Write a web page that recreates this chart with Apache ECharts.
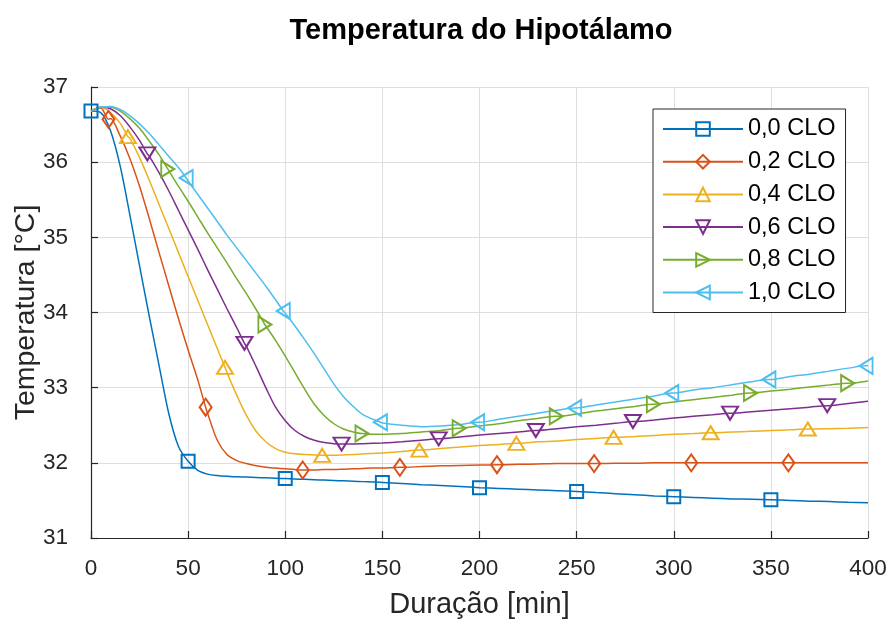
<!DOCTYPE html>
<html>
<head>
<meta charset="utf-8">
<script src="https://cdn.jsdelivr.net/npm/echarts@6/dist/echarts.min.js"></script>
<style>
  html, body { margin: 0; padding: 0; background: #ffffff; }
  #chart { width: 889px; height: 621px; }
</style>
</head>
<body>
<div id="chart"></div>
<script>
// Time samples (minutes) shared by all curves
const minutes = [
  0, 5, 10, 15, 20, 25, 30, 35, 40, 45, 50, 55, 60, 65, 70, 75, 80, 85, 90, 95,
  100, 105, 110, 115, 120, 125, 130, 135, 140, 145, 150,
  160, 170, 180, 190, 200, 210, 220, 230, 240, 250, 260, 270, 280, 290, 300,
  310, 320, 330, 340, 350, 360, 370, 380, 390, 400
];

// Hypothalamus temperature (°C) for each clothing insulation level
const clo00 = [
  36.68, 36.66, 36.42, 35.95, 35.30, 34.62, 33.95, 33.30, 32.66, 32.22, 32.02, 31.90, 31.85, 31.83, 31.82, 31.815, 31.81, 31.805, 31.80, 31.795,
  31.79, 31.785, 31.78, 31.775, 31.77, 31.765, 31.76, 31.755, 31.75, 31.745, 31.74,
  31.725, 31.71, 31.70, 31.685, 31.67, 31.66, 31.65, 31.64, 31.63, 31.62, 31.605, 31.59, 31.575, 31.56, 31.55,
  31.54, 31.53, 31.52, 31.515, 31.51, 31.50, 31.49, 31.485, 31.475, 31.47
];
const clo02 = [
  36.68, 36.72, 36.58, 36.35, 36.05, 35.68, 35.25, 34.80, 34.36, 33.92, 33.50, 33.10, 32.66, 32.30, 32.11, 32.03, 31.99, 31.96, 31.94, 31.93,
  31.92, 31.91, 31.905, 31.905, 31.91, 31.91, 31.915, 31.92, 31.925, 31.93, 31.93,
  31.94, 31.95, 31.96, 31.965, 31.97, 31.975, 31.98, 31.985, 31.99, 31.99, 31.99, 31.995, 31.995, 32.00, 32.00,
  32.00, 32.00, 32.00, 32.00, 32.00, 32.00, 32.00, 32.00, 32.00, 32.00
];
const clo04 = [
  36.68, 36.73, 36.66, 36.52, 36.32, 36.06, 35.76, 35.44, 35.12, 34.80, 34.48, 34.16, 33.84, 33.52, 33.20, 32.90, 32.63, 32.42, 32.28, 32.19,
  32.14, 32.12, 32.11, 32.105, 32.10, 32.10, 32.105, 32.11, 32.12, 32.125, 32.13,
  32.15, 32.17, 32.19, 32.21, 32.23, 32.245, 32.26, 32.28, 32.29, 32.31, 32.325, 32.34, 32.35, 32.365, 32.38,
  32.39, 32.40, 32.41, 32.42, 32.43, 32.44, 32.45, 32.455, 32.46, 32.47
];
const clo06 = [
  36.68, 36.73, 36.71, 36.62, 36.47, 36.29, 36.08, 35.86, 35.62, 35.36, 35.10, 34.84, 34.57, 34.31, 34.05, 33.80, 33.55, 33.28, 33.00, 32.74,
  32.56, 32.43, 32.35, 32.30, 32.27, 32.255, 32.25, 32.25, 32.255, 32.26, 32.265,
  32.28, 32.30, 32.32, 32.345, 32.37, 32.39, 32.41, 32.43, 32.455, 32.48, 32.50, 32.525, 32.55, 32.57, 32.595,
  32.62, 32.64, 32.66, 32.68, 32.70, 32.72, 32.74, 32.76, 32.79, 32.82
];
const clo08 = [
  36.68, 36.73, 36.73, 36.68, 36.58, 36.45, 36.28, 36.10, 35.89, 35.68, 35.48, 35.27, 35.06, 34.86, 34.66, 34.45, 34.25, 34.04, 33.82, 33.63,
  33.42, 33.20, 32.98, 32.78, 32.63, 32.52, 32.45, 32.41, 32.39, 32.38, 32.38,
  32.39, 32.41, 32.43, 32.46, 32.49, 32.52, 32.56, 32.59, 32.62, 32.65, 32.69, 32.72, 32.75, 32.78, 32.81,
  32.84, 32.87, 32.90, 32.93, 32.955, 32.98, 33.01, 33.035, 33.06, 33.09
];
const clo10 = [
  36.68, 36.73, 36.74, 36.70, 36.62, 36.51, 36.38, 36.23, 36.08, 35.93, 35.75, 35.57, 35.39, 35.21, 35.03, 34.86, 34.69, 34.52, 34.35, 34.17,
  33.99, 33.82, 33.64, 33.45, 33.25, 33.05, 32.88, 32.75, 32.64, 32.58, 32.53,
  32.50, 32.48, 32.49, 32.51, 32.54, 32.58, 32.62, 32.66, 32.70, 32.73, 32.77, 32.81, 32.85, 32.89, 32.93,
  32.97, 33.00, 33.04, 33.08, 33.11, 33.15, 33.18, 33.22, 33.26, 33.29
];

// Marked samples on each curve: times (min) and temperatures (°C)
const markTimes00 = [0, 50, 100, 150, 200, 250, 300, 350];
const markTemps00 = [36.68, 32.02, 31.79, 31.74, 31.67, 31.62, 31.55, 31.51];
const markTimes02 = [9, 59, 109, 159, 209, 259, 309, 359];
const markTemps02 = [36.57, 32.74, 31.905, 31.94, 31.975, 31.99, 32.00, 32.00];
const markTimes04 = [19, 69, 119, 169, 219, 269, 319, 369];
const markTemps04 = [36.34, 33.27, 32.10, 32.17, 32.26, 32.34, 32.40, 32.45];
const markTimes06 = [29, 79, 129, 179, 229, 279, 329, 379];
const markTemps06 = [36.11, 33.59, 32.25, 32.32, 32.43, 32.55, 32.66, 32.76];
const markTimes08 = [39.5, 89.5, 139.5, 189.5, 239.5, 289.5, 339.5, 389.5];
const markTemps08 = [35.91, 33.84, 32.39, 32.46, 32.62, 32.78, 32.93, 33.06];
const markTimes10 = [49, 99, 149, 199, 249, 299, 349, 399];
const markTemps10 = [35.79, 34.02, 32.54, 32.54, 32.73, 32.93, 33.11, 33.29];

const seriesNames = ['0,0 CLO', '0,2 CLO', '0,4 CLO', '0,6 CLO', '0,8 CLO', '1,0 CLO'];
const seriesTemps = [clo00, clo02, clo04, clo06, clo08, clo10];
const seriesMarkTimes = [markTimes00, markTimes02, markTimes04, markTimes06, markTimes08, markTimes10];
const seriesMarkTemps = [markTemps00, markTemps02, markTemps04, markTemps06, markTemps08, markTemps10];
const seriesColors = ['#0072BD', '#D95319', '#EDB120', '#7E2F8E', '#77AC30', '#4DBEEE'];

// Marker shapes: square, diamond, triangle up / down / right / left
const markerShapes = ['rect', 'diamond', 'triangle', 'triangle', 'triangle', 'triangle'];
const markerRotations = [0, 0, 0, 180, -90, 90];
const markerSizes = [[13, 13], [12, 17], [16, 13], [16, 13], [16, 13], [16, 13]];

const FONT = 'Liberation Sans, Arial, Helvetica, sans-serif';
const AXIS_COLOR = '#262626';
const GRID_COLOR = '#dedede';

// Merge the curve samples with the marked samples (marked ones carry a symbol)
function buildData(temps, markTimes, markTemps) {
  const pts = [];
  minutes.forEach((t, j) => {
    if (markTimes.indexOf(t) < 0) pts.push({ value: [t, temps[j]], symbol: 'none' });
  });
  markTimes.forEach((t, j) => pts.push({ value: [t, markTemps[j]] }));
  pts.sort((a, b) => a.value[0] - b.value[0]);
  return pts;
}

const series = seriesTemps.map((temps, i) => ({
  name: seriesNames[i],
  type: 'line',
  smooth: 0.3,
  showAllSymbol: true,
  symbol: markerShapes[i],
  symbolSize: markerSizes[i],
  symbolRotate: markerRotations[i],
  lineStyle: { color: seriesColors[i], width: 1.5 },
  itemStyle: { color: 'rgba(255,255,255,0)', borderColor: seriesColors[i], borderWidth: 2 },
  emphasis: { disabled: true },
  data: buildData(temps, seriesMarkTimes[i], seriesMarkTemps[i])
}));

const chart = echarts.init(document.getElementById('chart'), null, { renderer: 'canvas' });
chart.setOption({
  animation: false,
  backgroundColor: '#ffffff',
  textStyle: { fontFamily: FONT },
  title: {
    text: 'Temperatura do Hipotálamo',
    left: 476,
    top: 11,
    textAlign: 'center',
    textStyle: { fontFamily: FONT, fontSize: 29, fontWeight: 'bold', color: '#000000' }
  },
  grid: { left: 91, right: 21, top: 87, bottom: 83, containLabel: false, outerBoundsMode: 'none' },
  legend: {
    orient: 'vertical',
    left: 653,
    top: 109,
    padding: [8, 10, 8, 9],
    itemWidth: 80,
    itemHeight: 17,
    itemGap: 8.7,
    backgroundColor: '#ffffff',
    borderColor: AXIS_COLOR,
    borderWidth: 1,
    borderRadius: 0,
    textStyle: { fontFamily: FONT, fontSize: 23.5, lineHeight: 24, color: '#000000' },
    data: seriesNames
  },
  xAxis: {
    type: 'value',
    min: 0,
    max: 400,
    interval: 50,
    name: 'Duração [min]',
    nameLocation: 'middle',
    nameGap: 52,
    nameMoveOverlap: false,
    nameTextStyle: { fontFamily: FONT, fontSize: 29, color: AXIS_COLOR },
    axisLine: { show: true, onZero: false, lineStyle: { color: AXIS_COLOR, width: 1.2 } },
    axisTick: { show: true, inside: true, length: 7, lineStyle: { color: AXIS_COLOR, width: 1.2 } },
    axisLabel: { fontFamily: FONT, fontSize: 22.5, color: AXIS_COLOR, margin: 19 },
    splitLine: { show: true, lineStyle: { color: GRID_COLOR, width: 1 } }
  },
  yAxis: {
    type: 'value',
    min: 31,
    max: 37,
    interval: 1,
    name: 'Temperatura [°C]',
    nameLocation: 'middle',
    nameGap: 50,
    nameMoveOverlap: false,
    nameRotate: 90,
    nameTextStyle: { fontFamily: FONT, fontSize: 28.5, color: AXIS_COLOR },
    axisLine: { show: true, onZero: false, lineStyle: { color: AXIS_COLOR, width: 1.2 } },
    axisTick: { show: true, inside: true, length: 7, lineStyle: { color: AXIS_COLOR, width: 1.2 } },
    axisLabel: { fontFamily: FONT, fontSize: 22.5, color: AXIS_COLOR, margin: 23, padding: [6, 0, 0, 0] },
    splitLine: { show: true, lineStyle: { color: GRID_COLOR, width: 1 } }
  },
  series: series
});
</script>
</body>
</html>
